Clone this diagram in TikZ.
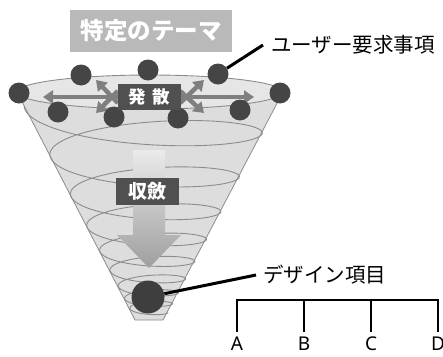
\documentclass[tikz,border=0pt]{standalone}
\usepackage{fontspec}
\newfontfamily\jp{Noto Sans CJK JP}
\newfontfamily\lat{Noto Sans}
\usetikzlibrary{arrows.meta}
\definecolor{dotgray}{HTML}{454545}
\definecolor{boxdark}{HTML}{505050}
\definecolor{titlegray}{HTML}{B9B9B9}
\definecolor{conefill}{HTML}{DDDDDD}
\definecolor{conetop}{HTML}{E6E6E6}
\definecolor{coneline}{HTML}{8C8C8C}
\definecolor{arrowgray}{HTML}{7F7F7F}
\begin{document}
\begin{tikzpicture}[x=1pt,y=-1pt,
  declare function={rr(\t)=126*exp(-1.95*\t/3060); yc(\t)=320-(rr(\t)-14)/119*227;},
  dot/.style={circle,fill=dotgray,minimum size=21pt,inner sep=0pt},
  bigdot/.style={circle,fill=dotgray!90!black,minimum size=33pt,inner sep=0pt},
  darkbox/.style={fill=boxdark,text=white,font=\jp\bfseries,inner sep=0pt},
  divarrow/.style={draw=arrowgray,line width=4.5pt,-{Triangle[length=10pt,width=13pt]}},
  spiral/.style={draw=coneline,line width=0.9pt},
  callout/.style={draw=black,line width=3pt},
  tree/.style={draw=black,line width=2.6pt},
  lbl/.style={font=\jp,inner sep=1pt,anchor=west,text=black},
  leaf/.style={font=\lat\fontsize{19}{19}\selectfont,inner sep=0pt}]
\useasboundingbox (0,0) rectangle (443,356);

% title
\node[fill=titlegray,text=white,font=\jp\bfseries\fontsize{23.5}{23.5}\selectfont,
      minimum width=162pt,minimum height=42pt,inner sep=0pt] (theme) at (151,31) {特定のテーマ};

% cone body and rim
\path[fill=conefill,draw=coneline,line width=0.8pt]
  (17,92) -- (135,320) -- (163,320) -- (283,92) -- cycle;
\path[fill=conetop,draw=coneline,line width=0.9pt] (150,92) ellipse [x radius=133, y radius=17];

% spiral winding down the cone
\draw[spiral] plot[domain=0:3060,samples=500,smooth]
  ({150-rr(\x)*cos(\x)},{yc(\x)+0.21*rr(\x)*sin(\x)});

% converging arrow
\shade[top color=conefill!60!white,bottom color=black!38]
  (133,150) -- (133,235) -- (117,235) -- (149,268) -- (181,235) -- (165,235) -- (165,150) -- cycle;
\node[darkbox,minimum width=63pt,minimum height=27pt,font=\jp\bfseries\fontsize{19}{19}\selectfont] (conv) at (147,191) {収斂};

% diverging arrows
\node[minimum width=62pt,minimum height=25pt,inner sep=0pt] (hbox) at (149,97) {};
\draw[divarrow] (hbox.west) -- (43,97);
\draw[divarrow] (hbox.east) -- (254,97);
\draw[divarrow] ([yshift=-6pt]hbox.west) -- (96,80);
\draw[divarrow] ([yshift=6pt]hbox.west) -- (96,113);
\draw[divarrow] ([yshift=-6pt]hbox.east) -- (204,80);
\draw[divarrow] ([yshift=6pt]hbox.east) -- (204,113);

% requirement dots
\node[dot] (u1) at (19,93) {};
\node[dot] (u2) at (81,75) {};
\node[dot] (u3) at (148,70) {};
\node[dot] (u4) at (218,74) {};
\node[dot] (u5) at (280,93) {};
\node[dot] (u6) at (58,112) {};
\node[dot] (u7) at (114,117) {};
\node[dot] (u8) at (178,118) {};
\node[dot] (u9) at (240,110) {};

\node[darkbox,minimum width=63pt,minimum height=26pt,font=\jp\bfseries\fontsize{17.5}{17.5}\selectfont] (diff) at (149,97) {発\hspace{0.35em}散};

% design item
\node[bigdot] (design) at (148,297) {};

% callouts
\node[lbl,font=\jp\fontsize{20.5}{20.5}\selectfont] (ureq) at (270,45) {ユーザー要求事項};
\draw[callout] (u4) -- ([xshift=-7pt]ureq.west);
\node[lbl,font=\jp\fontsize{20.5}{20.5}\selectfont] (ditem) at (262,275) {デザイン項目};
\draw[callout] (design) -- ([xshift=-6pt]ditem.west);

% item tree
\node[leaf] (A) at (237,344) {A};
\node[leaf] (B) at (304,344) {B};
\node[leaf] (C) at (371,344) {C};
\node[leaf] (D) at (438,344) {D};
\coordinate (bar) at (237,300);
\draw[tree] ([yshift=5pt]A.north) -- (A.north |- bar) -- (D.north |- bar) -- ([yshift=5pt]D.north);
\draw[tree] ([yshift=5pt]B.north) -- (B.north |- bar);
\draw[tree] ([yshift=5pt]C.north) -- (C.north |- bar);
\end{tikzpicture}
\end{document}
